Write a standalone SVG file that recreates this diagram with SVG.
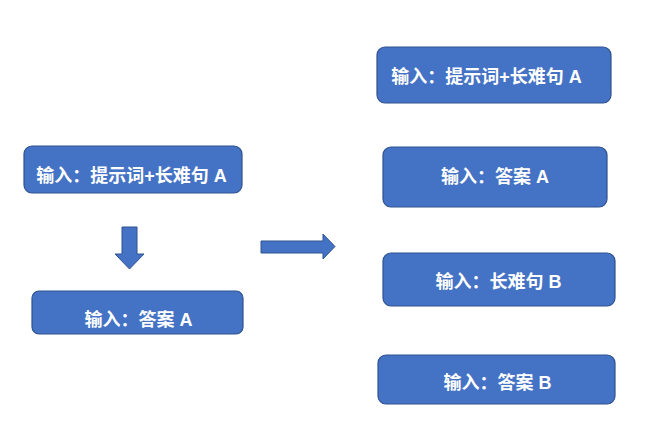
<svg xmlns="http://www.w3.org/2000/svg" width="660" height="446" viewBox="0 0 660 446">
<style>
.box{fill:#4472C4;stroke:#2F528F;stroke-width:1.2}
.t{fill:#FFFFFF;font-family:"Liberation Sans","Noto Sans CJK SC",sans-serif;font-weight:bold;font-size:18px;text-anchor:middle}
.arr{fill:#4472C4;stroke:#2F528F;stroke-width:1}
</style>
<rect width="660" height="446" fill="#FFFFFF"/>
<g id="left1"><rect class="box" x="24" y="146" width="218" height="47" rx="8"/><text class="t" x="131.5" y="182">输入：提示词+长难句 A</text></g>
<g id="left2"><rect class="box" x="32" y="291" width="211" height="43" rx="7"/><text class="t" x="138.5" y="326">输入：答案 A</text></g>
<g id="right1"><rect class="box" x="377" y="47" width="234" height="56" rx="8"/><text class="t" x="486.5" y="83">输入：提示词+长难句 A</text></g>
<g id="right2"><rect class="box" x="383" y="147" width="224" height="60" rx="8"/><text class="t" x="495" y="183">输入：答案 A</text></g>
<g id="right3"><rect class="box" x="383" y="253" width="232" height="53" rx="8"/><text class="t" x="498.5" y="288">输入：长难句 B</text></g>
<g id="right4"><rect class="box" x="378" y="355" width="237" height="49" rx="8"/><text class="t" x="497.5" y="389">输入：答案 B</text></g>
<g id="connectors">
<polygon class="arr" points="122,227 137,227 137,254 144,254 129.5,269 115,254 122,254"/>
<polygon class="arr" points="261,241 323,241 323,234 335,246.5 323,259 323,253 261,253"/>
</g>
</svg>
